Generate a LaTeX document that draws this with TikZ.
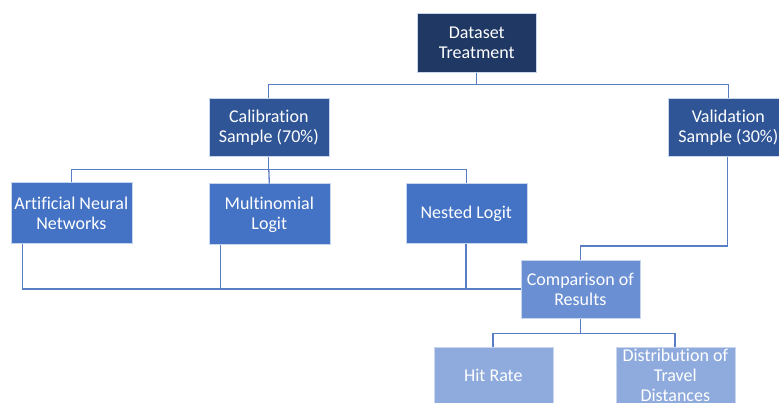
\documentclass[tikz,border=0pt]{standalone}
\usepackage{fontspec}
\setmainfont[Ligatures={NoCommon}]{Carlito}
\definecolor{navy}{HTML}{203864}
\definecolor{midblue}{HTML}{2F5597}
\definecolor{accent}{HTML}{4472C4}
\definecolor{softblue}{HTML}{6A8FD2}
\definecolor{paleblue}{HTML}{8FAADC}
\definecolor{linkblue}{HTML}{5A7EC6}
\tikzset{
  box/.style={draw=white!70!accent, line width=0.6pt, text=white, align=center,
    font=\fontsize{18}{20}\selectfont, inner sep=0pt, anchor=north west},
  link/.style={draw=linkblue, line width=1.3pt}
}
\begin{document}
\begin{tikzpicture}[x=1pt,y=-1pt]
\useasboundingbox (0,0) rectangle (779,403);
% boxes (top-left corner, size)
\node[box, fill=navy, minimum width=119pt, minimum height=59pt] (ds) at (417,13) {Dataset\\Treatment};
\node[box, fill=midblue, minimum width=120pt, minimum height=58pt] (cal) at (208.5,98.5) {Calibration\\Sample (70\%)};
\node[box, fill=midblue, minimum width=120pt, minimum height=58pt] (val) at (668,98.5) {Validation\\Sample (30\%)};
\node[box, fill=accent, minimum width=121pt, minimum height=61pt] (ann) at (10.5,182.5) {Artificial Neural\\Networks};
\node[box, fill=accent, minimum width=121pt, minimum height=61pt] (mnl) at (208.5,183.5) {Multinomial\\Logit};
\node[box, fill=accent, minimum width=121pt, minimum height=60pt] (nl) at (405.5,183.5) {Nested Logit};
\node[box, fill=softblue, minimum width=119pt, minimum height=58pt] (cmp) at (520.5,260) {Comparison of\\Results};
\node[box, fill=paleblue, minimum width=119pt, minimum height=62pt, text depth=6pt] (hit) at (433.5,347) {Hit Rate};
\node[box, fill=paleblue, minimum width=119pt, minimum height=62pt, text depth=6pt] (dist) at (615.5,347) {Distribution of\\Travel\\Distances};
% connectors
\coordinate (j1) at (ds.south |- 0,84.5);
\draw[link] (ds.south) -- (j1);
\draw[link] (cal.north) |- (j1) -| (val.north);
\coordinate (j2) at (cal.south |- 0,169.3);
\draw[link] (cal.south) -- (j2);
\draw[link] (ann.north) |- (j2) -| (nl.north);
\draw[link] (j2) -- (mnl.north);
\coordinate (b1) at (22.7,289);
\coordinate (b2) at (220.3,289);
\coordinate (b3) at (466,289);
\draw[link] (b1 |- ann.south) -- (b1) -- (cmp.west |- b1);
\draw[link] (b2 |- mnl.south) -- (b2);
\draw[link] (b3 |- nl.south) -- (b3);
\coordinate (v1) at (727.7,246);
\draw[link] (v1 |- val.south) -- (v1) -| (cmp.north);
\coordinate (j3) at (cmp.south |- 0,333.3);
\draw[link] (cmp.south) -- (j3);
\draw[link] (j3) -| (493,347);
\draw[link] (j3) -| (675,347);
\end{tikzpicture}
\end{document}
